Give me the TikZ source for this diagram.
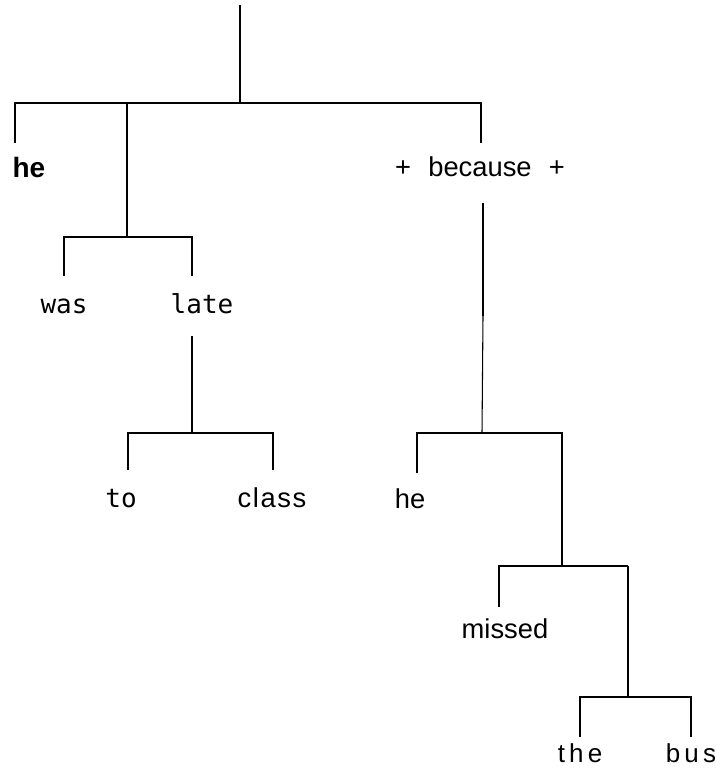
\documentclass[tikz,border=0pt]{standalone}
\usepackage{fontspec}
\setmainfont{Liberation Sans}
\newfontfamily\typefont{DejaVu Sans Mono}
\usetikzlibrary{calc}

\begin{document}
\begin{tikzpicture}[x=0.75pt,y=-0.75pt,line width=0.8pt]
        \tikzset{word/.style={anchor=base,inner sep=0pt,font=\fontsize{20.5}{24}\selectfont},
                 typed/.style={anchor=base,inner sep=0pt,font=\typefont\fontsize{19.5}{24}\selectfont},
                 spaced/.style={anchor=base,inner sep=0pt,font=\addfontfeature{LetterSpace=16}\fontsize{19.5}{24}\selectfont},
                 heavy/.style={line width=2.2pt}}
        \useasboundingbox (0,0) rectangle (715,773);
        \node[word,anchor=base west,font=\bfseries\fontsize{21}{24}\selectfont] (he1) at (12,178) {he};
        \node[word] (because) at (480,177) {+\hspace{0.63em}because\hspace{0.63em}+};
        \node[typed] (was) at (64,313) {was};
        \node[typed] (late) at (202,313) {late};
        \node[typed] (to) at (121,507) {to};
        \node[word,font=\addfontfeature{LetterSpace=6}\fontsize{20.5}{24}\selectfont] (class) at (272,507) {class};
        \node[word] (he2) at (410,508) {he};
        \node[word] (missed) at (505,638) {missed};
        \node[spaced] (the) at (580,762) {the};
        \node[spaced] (bus) at (691,762) {bus};
        \coordinate (top) at (240,5);
        \coordinate (s) at (240,103);
        \coordinate (d-he1) at (15,143);
        \coordinate (vp) at (127,237);
        \coordinate (d-because) at (481,143);
        \coordinate (d-was) at (64,276);
        \coordinate (d-late) at (192,276);
        \coordinate (late-up) at (192,336);
        \coordinate (pp) at (192,433);
        \coordinate (d-to) at (128,470);
        \coordinate (d-class) at (273,470);
        \coordinate (because-up) at (483,203);
        \coordinate (because-mid) at (483,316);
        \coordinate (clause) at (482,433);
        \coordinate (d-he2) at (417,473);
        \coordinate (vp2) at (562,566);
        \coordinate (d-missed) at (499,607);
        \coordinate (np) at (628,697);
        \coordinate (d-the) at (580,737);
        \coordinate (d-bus) at (691,737);
        \draw (top) -- (s);
        \draw (d-he1) -- (d-he1 |- s) -- (d-because |- s) -- (d-because);
        \draw (s -| vp) -- (vp);
        \draw (d-was) -- (d-was |- vp) -- (d-late |- vp) -- (d-late);
        \draw (late-up) -- (pp);
        \draw (d-to) -- (d-to |- pp) -- (d-class |- pp) -- (d-class);
        \draw[heavy] (because-up) -- (because-mid);
        \draw (because-mid) -- (clause);
        \draw (d-he2) -- (d-he2 |- clause) -- (vp2 |- clause) -- (vp2);
        \draw (d-missed) -- (d-missed |- vp2) -- (np |- vp2);
        \draw[heavy] (np |- vp2) -- (np);
        \draw (d-the) -- (d-the |- np) -- (d-bus |- np) -- (d-bus);
\end{tikzpicture}
\end{document}
